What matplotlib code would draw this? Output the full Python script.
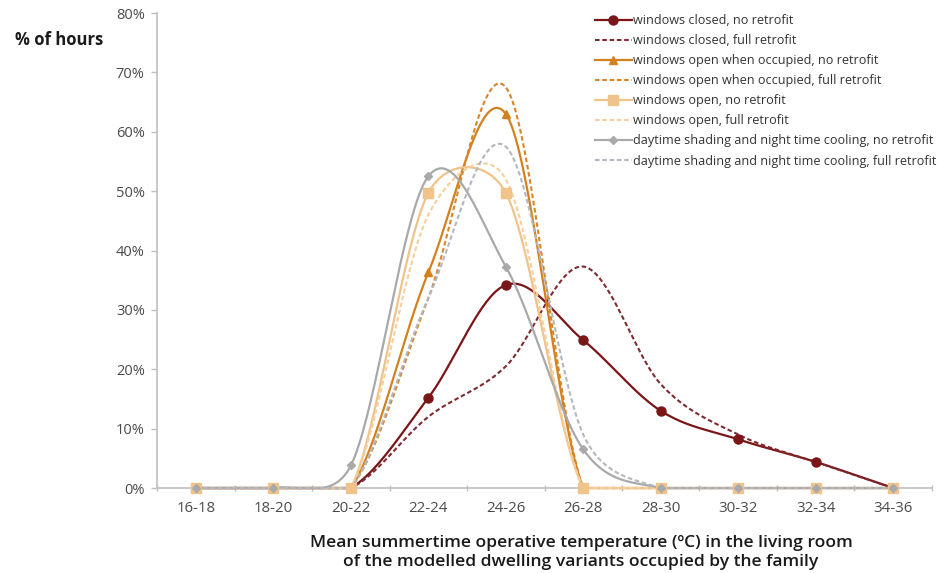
import numpy as np
import matplotlib
matplotlib.use("Agg")
import matplotlib.pyplot as plt

plt.rcParams['font.family'] = ['Open Sans', 'DejaVu Sans']

# temperature bands (x categories)
categories = ['16-18', '18-20', '20-22', '22-24', '24-26',
              '26-28', '28-30', '30-32', '32-34', '34-36']

# % of hours per band
closed_no = [0, 0, 0, 15.2, 34.2, 24.9, 13.0, 8.2, 4.4, 0]
closed_full = [0, 0, 0, 12.0, 20.5, 37.3, 17.5, 9.0, 4.4, 0]
occupied_no = [0, 0, 0, 36.3, 63.0, 0, 0, 0, 0, 0]
occupied_full = [0, 0, 0, 32.0, 67.5, 0, 0, 0, 0, 0]
open_no = [0, 0, 0, 49.7, 49.7, 0, 0, 0, 0, 0]
open_full = [0, 0, 0, 46.0, 52.0, 0, 0, 0, 0, 0]
shading_no = [0, 0, 3.8, 52.5, 37.3, 6.5, 0, 0, 0, 0]
shading_full = [0, 0, 0, 32.0, 57.5, 9.0, 0, 0, 0, 0]

labels = ['windows closed, no retrofit',
          'windows closed, full retrofit',
          'windows open when occupied, no retrofit',
          'windows open when occupied, full retrofit',
          'windows open, no retrofit',
          'windows open, full retrofit',
          'daytime shading and night time cooling, no retrofit',
          'daytime shading and night time cooling, full retrofit']
series = [closed_no, closed_full, occupied_no, occupied_full,
          open_no, open_full, shading_no, shading_full]
colors = ['#7a1518', '#7e2c33', '#d3811f', '#d98428',
          '#f0c38a', '#f5cf9c', '#a9a9aa', '#b3b7c0']
markers = ['o', None, '^', None, 's', None, 'D', None]
msizes = [6.5, 0, 6, 0, 7, 0, 4.5, 0]


def smooth(ax, xs, ys, n=40):
    # Excel-like smoothed line: cubic bezier through the points,
    # computed in screen space
    pts = ax.transData.transform(np.column_stack([xs, ys]))
    out = [pts[:1]]
    last = len(pts) - 1
    t = np.linspace(0, 1, n)[1:, None]
    for i in range(last):
        p0 = pts[max(i - 1, 0)]
        p1 = pts[i]
        p2 = pts[i + 1]
        p3 = pts[min(i + 2, last)]
        seg = np.hypot(*(p2 - p1))
        c1 = (p2 - p0) / 6.0
        c2 = (p3 - p1) / 6.0
        for c in (c1, c2):
            ln = np.hypot(*c)
            if ln > 0.5 * seg:
                c *= 0.5 * seg / ln
        b = ((1 - t) ** 3 * p1 + 3 * (1 - t) ** 2 * t * (p1 + c1)
             + 3 * (1 - t) * t ** 2 * (p2 - c2) + t ** 3 * p2)
        out.append(b)
    xy = ax.transData.inverted().transform(np.vstack(out))
    return xy[:, 0], np.maximum(xy[:, 1], 0)


fig = plt.figure(figsize=(9.47, 5.73), dpi=100)
ax = fig.add_axes([0.166, 0.1483, 0.818, 0.829])
x = np.arange(len(categories))
ax.set_xlim(-0.5, len(categories) - 0.5)
ax.set_ylim(0, 80)

handles = []
for k, vals in enumerate(series):
    sx, sy = smooth(ax, x, vals)
    dashed = markers[k] is None
    line, = ax.plot(sx, sy, color=colors[k], lw=1.6 if not dashed else 1.5,
                    clip_on=False, zorder=3 + k * 0.1)
    if dashed:
        line.set_dashes((2.2, 1.3))
        handles.append(line)
    else:
        pts, = ax.plot(x, vals, ls='none', marker=markers[k], ms=msizes[k],
                       color=colors[k], mec=colors[k], clip_on=False,
                       zorder=4 + k * 0.1)
        handles.append((line, pts))

ax.legend(handles, labels, loc='upper left', bbox_to_anchor=(0.565, 0.998),
          frameon=False, fontsize=9.1, numpoints=1, handlelength=2.9,
          handletextpad=0.1, labelspacing=0.56, borderaxespad=0, borderpad=0,
          labelcolor='#333333')

# axes styling
for s in ['top', 'right']:
    ax.spines[s].set_visible(False)
for s in ['left', 'bottom']:
    ax.spines[s].set_color('#bfbfbf')
    ax.spines[s].set_linewidth(1.2)

ax.set_xticks(x)
ax.set_xticklabels(categories)
ax.set_xticks(np.arange(-0.5, len(categories)), minor=True)
ax.tick_params(axis='x', which='major', length=0, pad=9,
               labelsize=10.8, labelcolor='#4a4a4a')
ax.tick_params(axis='x', which='minor', length=5, direction='inout',
               color='#bfbfbf', width=1)
ax.set_yticks(np.arange(0, 81, 10))
ax.set_yticklabels([f'{v}%' for v in range(0, 81, 10)])
ax.tick_params(axis='y', length=4, color='#bfbfbf', width=1, pad=5,
               labelsize=10.5, labelcolor='#4a4a4a')

fig.text(0.016, 0.930, '% of hours', fontsize=12, fontweight='bold',
         color='#1a1a1a', va='center', ha='left')
fig.text(0.6135, 0.036,
         'Mean summertime operative temperature (ºC) in the living room\n'
         'of the modelled dwelling variants occupied by the family',
         fontsize=12.6, fontweight='semibold', color='#1a1a1a',
         ha='center', va='center', linespacing=1.22)

fig.savefig('out.png', dpi=100)
